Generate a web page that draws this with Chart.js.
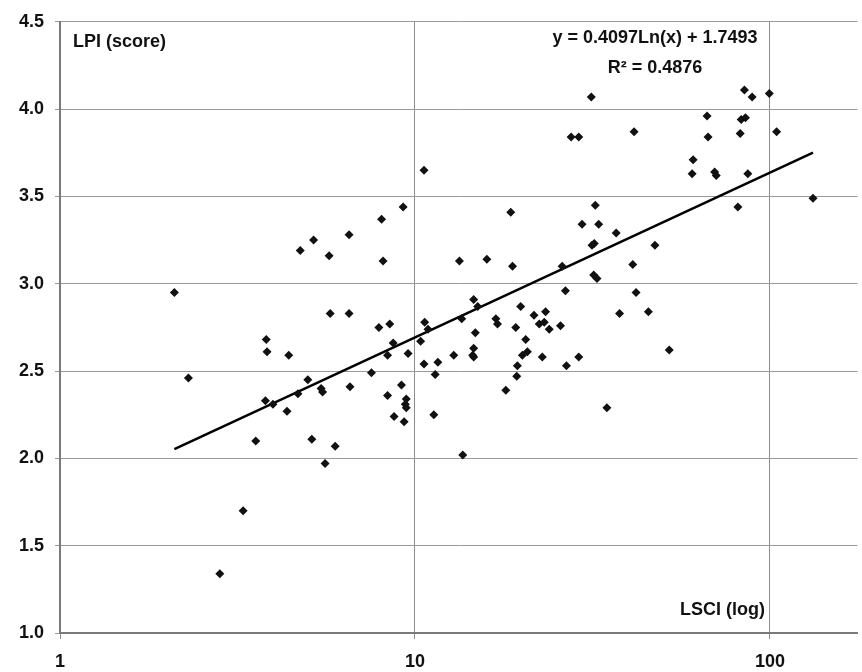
<!DOCTYPE html>
<html>
<head>
<meta charset="utf-8">
<script src="https://cdn.jsdelivr.net/npm/chart.js@4.4.1/dist/chart.umd.min.js"></script>
<style>
    html, body { margin: 0; padding: 0; background: #ffffff; }
    #wrap { width: 862px; height: 672px; }
</style>
</head>
<body>
<div id="wrap"><canvas id="lpi-chart" width="862" height="672"></canvas></div>
<script>
// LSCI (x, log scale) and LPI score (y) for each country
const lsciValues = [
    2.10, 2.30, 2.82, 3.28, 3.56, 3.81, 3.83, 3.79, 3.98, 4.36,
    4.41, 4.68, 4.75, 4.99, 5.12, 5.18, 5.44, 5.49, 5.58, 5.73,
    5.77, 5.96, 6.52, 6.52, 6.56, 7.54, 7.91, 8.05, 8.13, 8.37,
    8.37, 8.49, 8.68, 8.73, 9.16, 9.26, 9.32, 9.39, 9.45, 9.45,
    9.56, 10.37, 10.60, 10.60, 10.65, 10.88, 11.30, 11.40, 11.60, 12.86,
    13.34, 13.54, 13.63, 14.54, 14.63, 14.63, 14.63, 14.79, 15.02, 15.94,
    16.90, 17.08, 18.02, 18.61, 18.82, 19.22, 19.35, 19.43, 19.85, 20.07,
    20.50, 20.73, 21.64, 22.39, 23.13, 23.89, 23.32, 22.84, 25.70, 25.98,
    26.53, 26.71, 27.53, 28.93, 28.93, 29.55, 31.38, 31.52, 31.99, 31.87,
    32.56, 32.20, 32.92, 34.72, 36.87, 37.69, 41.06, 41.41, 41.95, 45.44,
    47.42, 52.03, 60.35, 60.75, 66.49, 66.92, 69.82, 70.58, 81.21, 82.41,
    82.95, 85.27, 84.72, 86.61, 89.05, 99.55, 104.4, 132.2
];
const lpiValues = [
    2.95, 2.46, 1.34, 1.70, 2.10, 2.68, 2.61, 2.33, 2.31, 2.27,
    2.59, 2.37, 3.19, 2.45, 2.11, 3.25, 2.40, 2.38, 1.97, 3.16,
    2.83, 2.07, 3.28, 2.83, 2.41, 2.49, 2.75, 3.37, 3.13, 2.59,
    2.36, 2.77, 2.66, 2.24, 2.42, 3.44, 2.21, 2.31, 2.34, 2.29,
    2.60, 2.67, 3.65, 2.54, 2.78, 2.74, 2.25, 2.48, 2.55, 2.59,
    3.13, 2.80, 2.02, 2.59, 2.63, 2.58, 2.91, 2.72, 2.87, 3.14,
    2.80, 2.77, 2.39, 3.41, 3.10, 2.75, 2.47, 2.53, 2.87, 2.59,
    2.68, 2.61, 2.82, 2.77, 2.78, 2.74, 2.84, 2.58, 2.76, 3.10,
    2.96, 2.53, 3.84, 3.84, 2.58, 3.34, 4.07, 3.22, 3.23, 3.05,
    3.03, 3.45, 3.34, 2.29, 3.29, 2.83, 3.11, 3.87, 2.95, 2.84,
    3.22, 2.62, 3.63, 3.71, 3.96, 3.84, 3.64, 3.62, 3.44, 3.86,
    3.94, 3.95, 4.11, 3.63, 4.07, 4.09, 3.87, 3.49
];

// axis ticks
const xTickValues = [1, 10, 100];
const yTickValues = [1.0, 1.5, 2.0, 2.5, 3.0, 3.5, 4.0, 4.5];

// logarithmic trend line printed on the chart
const trendSlope = 0.4097;
const trendIntercept = 1.7493;
const trendLabel = 'y = 0.4097Ln(x) + 1.7493';
const r2Label = 'R\u00B2 = 0.4876';

const fontFamily = '"Liberation Sans", Arial, sans-serif';

let scatterPoints = [];
for (let i = 0; i < lsciValues.length; i++) {
    scatterPoints.push({ x: lsciValues[i], y: lpiValues[i] });
}

// a straight line on the log axis, so the two ends are enough
const xMin = Math.min.apply(null, lsciValues);
const xMax = Math.max.apply(null, lsciValues);
const trendPoints = [xMin, xMax].map(function(v) {
    return { x: v, y: trendSlope * Math.log(v) + trendIntercept };
});

// Plugin that writes the text boxes inside the plot
const chartTexts = {
    id: 'chartTexts',
    afterDraw: function(chart) {
        const ctx = chart.ctx;
        const area = chart.chartArea;
        ctx.save();
        ctx.fillStyle = '#111111';
        ctx.font = 'bold 18px ' + fontFamily;
        ctx.textBaseline = 'middle';

        ctx.textAlign = 'left';
        ctx.fillText('LPI (score)', area.left + 13, 42);

        ctx.textAlign = 'right';
        ctx.fillText('LSCI (log)', 765, 610);

        ctx.textAlign = 'center';
        ctx.fillText(trendLabel, 655, 38);
        ctx.fillText(r2Label, 655, 68);
        ctx.restore();
    }
};

const ctx = document.getElementById('lpi-chart').getContext('2d');
const lpiChart = new Chart(ctx, {
    type: 'scatter',
    data: {
        datasets: [
            {
                label: 'LPI',
                data: scatterPoints,
                pointStyle: 'rectRot',
                pointRadius: 4.5,
                pointBackgroundColor: '#111111',
                pointBorderColor: '#111111',
                pointBorderWidth: 0,
                showLine: false
            },
            {
                label: 'Trend',
                data: trendPoints,
                showLine: true,
                borderColor: '#000000',
                borderWidth: 2.5,
                pointRadius: 0,
                fill: false
            }
        ]
    },
    options: {
        responsive: false,
        animation: false,
        devicePixelRatio: 1,
        layout: { padding: { top: 16, right: 0, left: 0, bottom: 0 } },
        plugins: {
            legend: { display: false },
            tooltip: { enabled: false }
        },
        scales: {
            x: {
                type: 'logarithmic',
                min: 1,
                max: Math.pow(10, 802 / 357),
                afterBuildTicks: function(scale) {
                    scale.ticks = xTickValues.map(function(v) { return { value: v }; });
                },
                afterFit: function(scale) { scale.height = 39; },
                ticks: {
                    autoSkip: false,
                    maxRotation: 0,
                    padding: 12,
                    color: '#111111',
                    font: { family: fontFamily, size: 18, weight: 'bold' },
                    callback: function(value) { return String(value); }
                },
                grid: {
                    color: '#8c8c8c',
                    lineWidth: 1,
                    tickLength: 6
                },
                border: { color: '#7a7a7a', width: 2 }
            },
            y: {
                type: 'linear',
                min: 1.0,
                max: 4.5,
                afterBuildTicks: function(scale) {
                    scale.ticks = yTickValues.map(function(v) { return { value: v }; });
                },
                afterFit: function(scale) { scale.width = 60; },
                ticks: {
                    padding: 11,
                    color: '#111111',
                    font: { family: fontFamily, size: 18, weight: 'bold' },
                    callback: function(value) { return value.toFixed(1); }
                },
                grid: {
                    color: '#9a9a9a',
                    lineWidth: 1,
                    tickLength: 5
                },
                border: { color: '#7a7a7a', width: 2 }
            }
        }
    },
    plugins: [chartTexts]
});
</script>
</body>
</html>
